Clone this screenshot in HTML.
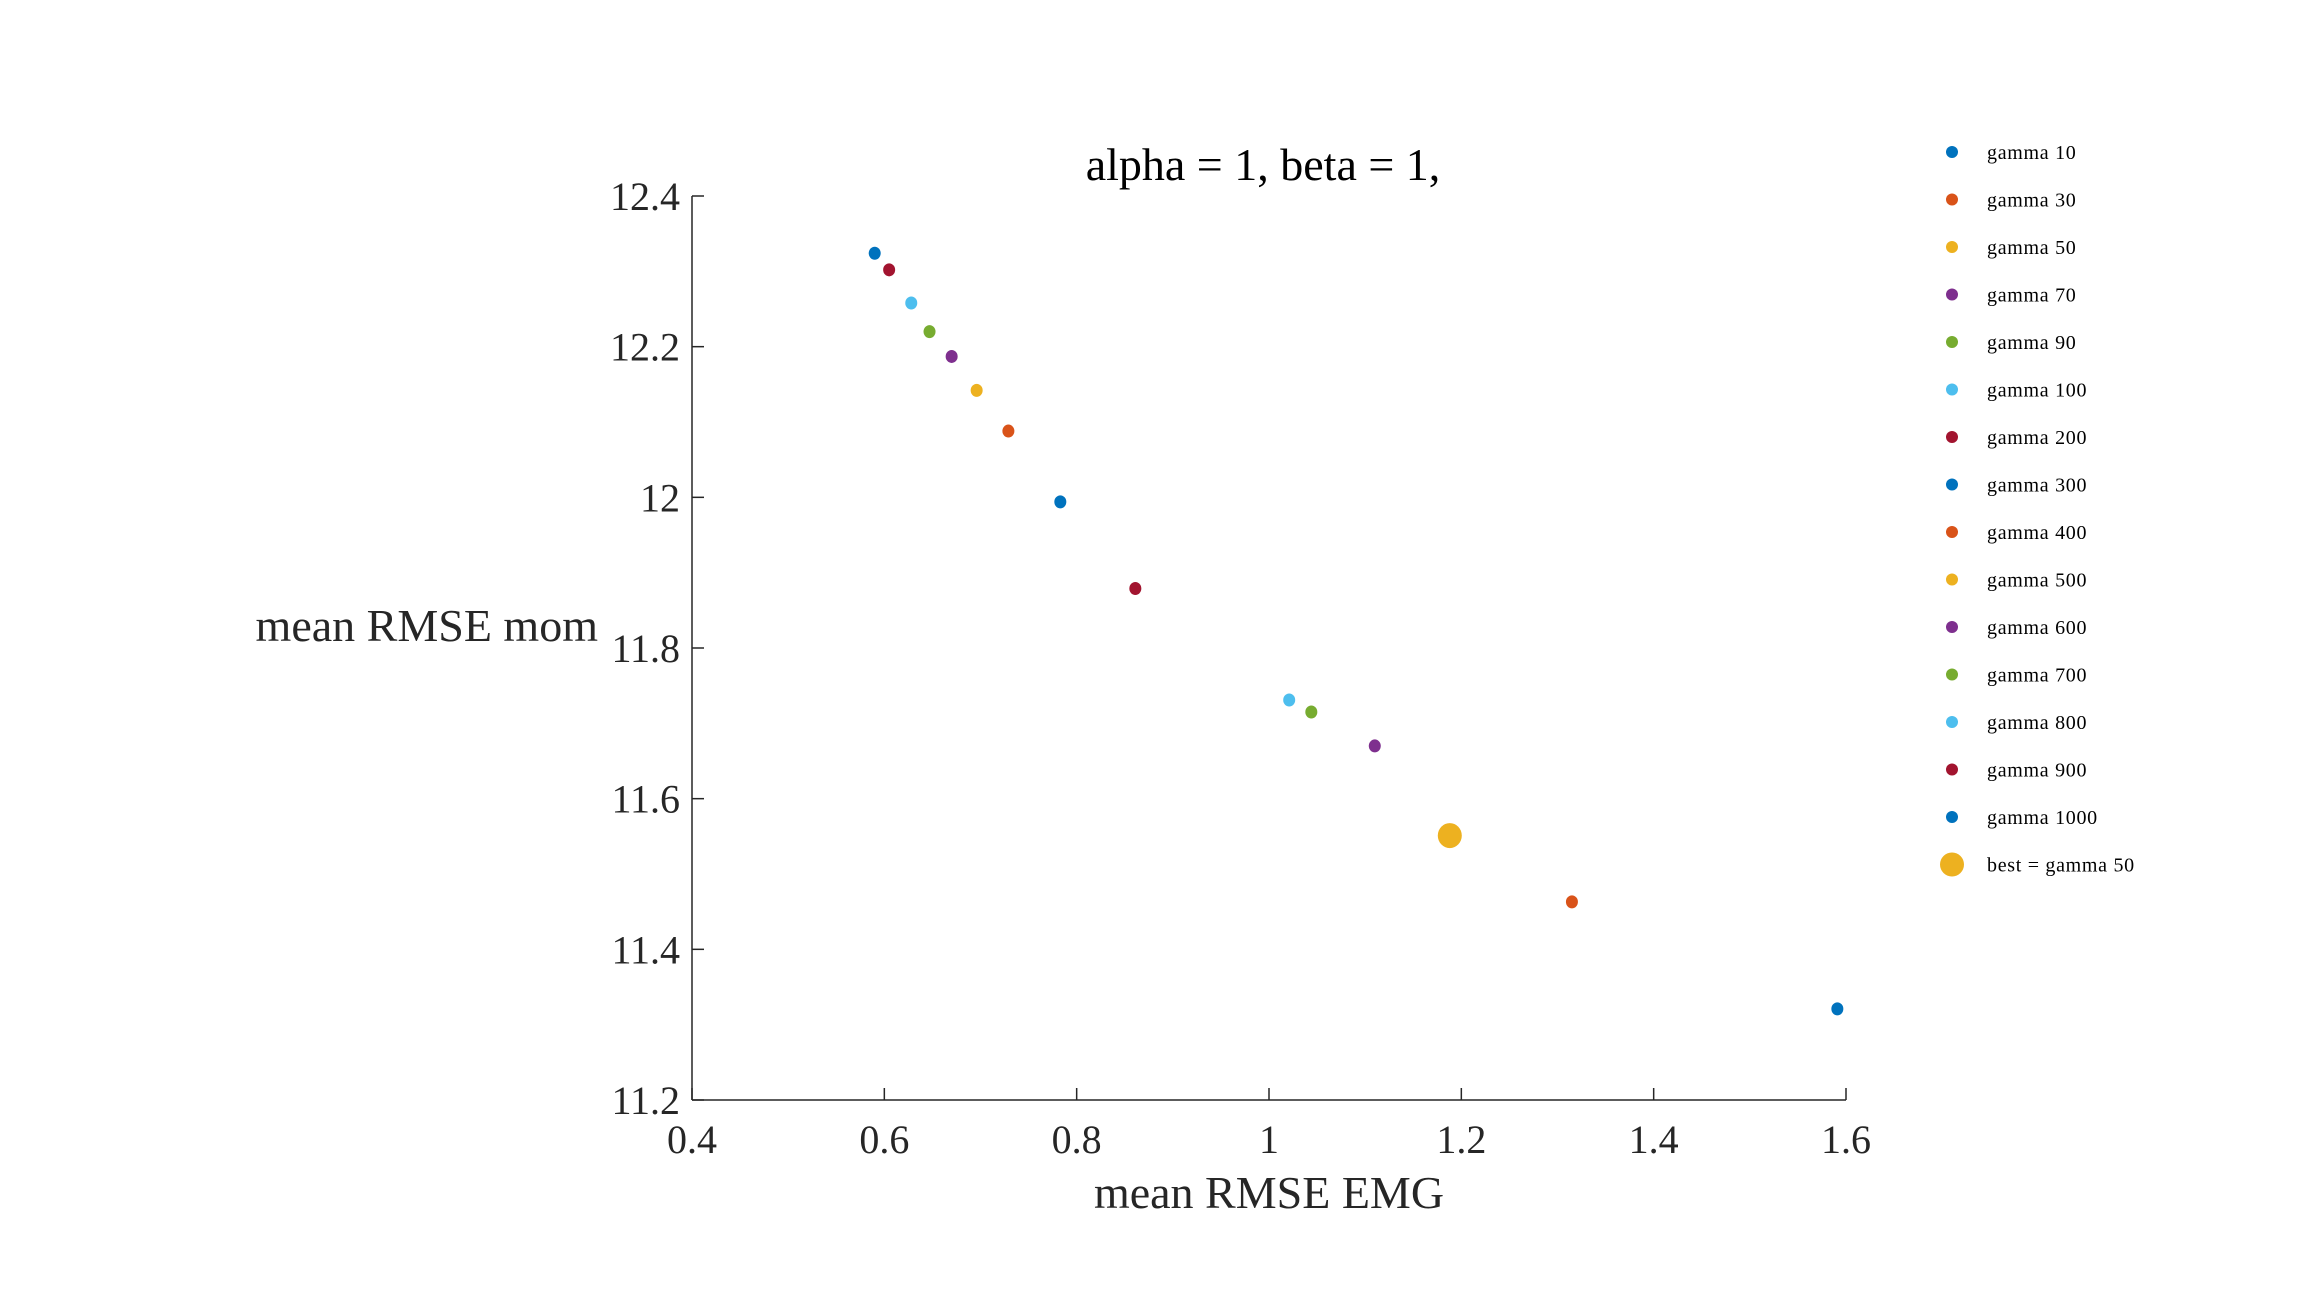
<!DOCTYPE html>
<html><head><meta charset="utf-8">
<style>
html,body{margin:0;padding:0;background:#fff;}
svg{display:block;font-family:"Liberation Serif",serif;}
</style></head>
<body>
<svg id="chart" width="2308" height="1298" viewBox="0 0 2308 1298" xmlns="http://www.w3.org/2000/svg">
<rect width="2308" height="1298" fill="#fff"/>
<g id="axes"></g>
<g id="points"></g>
<g id="legend"></g>
</svg>
<script>
const gammas = ["1000","900","800","700","600","500","400","300","200","100","90","70","50","30","10"];
const emgValues = [0.590,0.605,0.628,0.647,0.670,0.696,0.729,0.783,0.861,1.021,1.044,1.110,1.188,1.315,1.591];
const momValues = [12.324,12.302,12.258,12.220,12.187,12.142,12.088,11.994,11.879,11.731,11.715,11.670,11.551,11.463,11.321];
const legendLabels = ["gamma 10","gamma 30","gamma 50","gamma 70","gamma 90","gamma 100","gamma 200","gamma 300","gamma 400","gamma 500","gamma 600","gamma 700","gamma 800","gamma 900","gamma 1000"];
const bestGamma = "50";
const xTicks = [0.4,0.6,0.8,1,1.2,1.4,1.6];
const yTicks = [11.2,11.4,11.6,11.8,12,12.2,12.4];
const palette = ["#0072BD","#D95319","#EDB120","#7E2F8E","#77AC30","#4DBEEE","#A2142F"];

const NS="http://www.w3.org/2000/svg";
const X0=692,X1=1846,Y0=1100,Y1=196;
const xMin=0.4,xMax=1.6,yMin=11.2,yMax=12.4;
function xs(v){return X0+(v-xMin)/(xMax-xMin)*(X1-X0);}
function ys(v){return Y0-(v-yMin)/(yMax-yMin)*(Y0-Y1);}
function mk(tag,attrs,parent){const e=document.createElementNS(NS,tag);for(const k in attrs)e.setAttribute(k,attrs[k]);parent.appendChild(e);return e;}
function colorFor(g){const i=legendLabels.indexOf("gamma "+g);return palette[i%palette.length];}

const axes=document.getElementById('axes');
let l=mk('line',{x1:X0,y1:Y0,x2:X1,y2:Y0,stroke:'#262626','stroke-width':1.5},axes);


l=mk('line',{x1:X0,y1:Y0,x2:X0,y2:Y1,stroke:'#262626','stroke-width':1.5},axes);


xTicks.forEach(v=>{
  const t=mk('line',{x1:xs(v),y1:Y0,x2:xs(v),y2:Y0-12,stroke:'#262626','stroke-width':1.5},axes);
  
  
  const tx=mk('text',{x:xs(v),y:1153,'text-anchor':'middle','font-size':40,fill:'#262626'},axes);
  tx.textContent=String(v);
  
  
});
yTicks.forEach(v=>{
  const t=mk('line',{x1:X0,y1:ys(v),x2:X0+12,y2:ys(v),stroke:'#262626','stroke-width':1.5},axes);
  
  
  const tx=mk('text',{x:680,y:ys(v)+14,'text-anchor':'end','font-size':40,fill:'#262626'},axes);
  tx.textContent=String(v);
  
  
});
let tt=mk('text',{x:1263,y:180,'text-anchor':'middle','font-size':46,fill:'#000'},axes);
tt.textContent="alpha = 1, beta = 1,";


tt=mk('text',{x:1269,y:1208,'text-anchor':'middle','font-size':46,fill:'#262626'},axes);
tt.textContent="mean RMSE EMG";


tt=mk('text',{x:598,y:641,'text-anchor':'end','font-size':46,fill:'#262626'},axes);
tt.textContent="mean RMSE mom";



const pts=document.getElementById('points');
gammas.forEach((g,i)=>{
  const c=mk('ellipse',{cx:xs(emgValues[i]),cy:ys(momValues[i]),rx:6,ry:6.5,fill:colorFor(g)},pts);
  
  
});
const bi=gammas.indexOf(bestGamma);
const bc=mk('ellipse',{cx:xs(emgValues[bi]),cy:ys(momValues[bi]),rx:12,ry:12.5,fill:colorFor(bestGamma)},pts);



const lg=document.getElementById('legend');
legendLabels.concat(["best = gamma "+bestGamma]).forEach((lab,i)=>{
  const y=152+i*47.5;
  const best=i===legendLabels.length;
  const m=mk('ellipse',{cx:1952,cy:y,rx:best?12:6,ry:best?12:6,fill:best?colorFor(bestGamma):palette[i%palette.length]},lg);
  
  
  const t=mk('text',{x:1987,y:y+7,'font-size':20,'letter-spacing':'0.7',fill:'#000'},lg);
  t.textContent=lab;
  
  
});
</script>
</body></html>
